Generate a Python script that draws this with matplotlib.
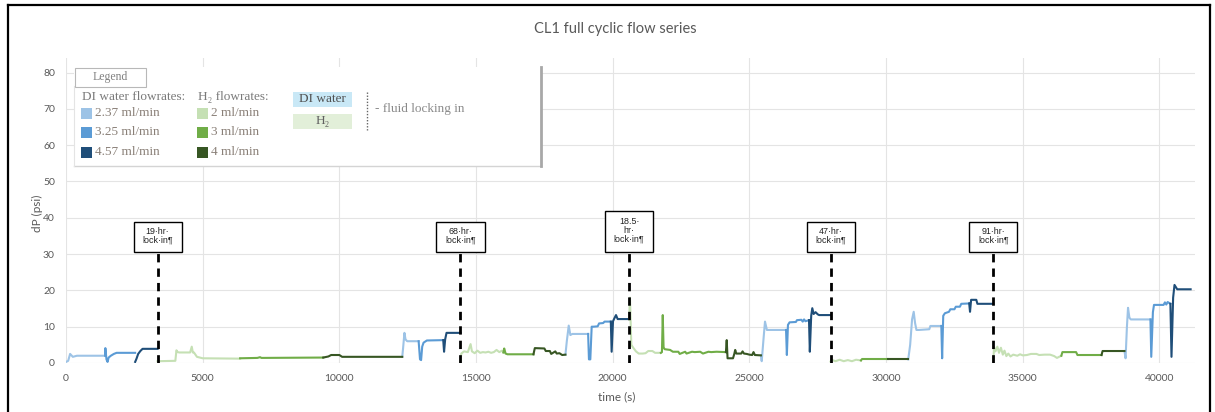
import matplotlib
matplotlib.use('Agg')
import matplotlib.pyplot as plt
from matplotlib.patches import Rectangle
from matplotlib.lines import Line2D

plt.rcParams['font.family'] = ['Lato', 'DejaVu Sans']

# each run: (time in s, dP in psi)
di_237 = [
    ([0, 80, 150, 250, 400, 1430], [0.3, 0.6, 2.5, 1.7, 2.0, 2.0]),
    ([12300, 12330, 12380, 12420, 12480, 12900], [1.7, 4.0, 8.3, 6.5, 6.0, 6.0]),
    ([18270, 18320, 18390, 18450, 18520, 19100], [2.3, 6.0, 10.3, 7.7, 8.0, 8.0]),
    ([25420, 25450, 25520, 25570, 25640, 25700, 26340], [2.1, 0.5, 7.0, 11.4, 9.1, 9.1, 9.1]),
    ([30810, 30880, 30950, 31010, 31060, 31110, 31200, 31580, 31620, 32020],
     [1.0, 5.0, 12.0, 14.1, 11.0, 9.1, 9.1, 9.3, 10.2, 10.2]),
    ([38720, 38760, 38810, 38850, 38900, 38950, 39670], [3.3, 1.3, 10.0, 15.2, 12.5, 12.0, 12.0]),
]
di_325 = [
    ([1430, 1440, 1480, 1520, 1560, 1640, 1750, 1850, 2530], [2.0, 4.1, 1.0, 0.3, 1.5, 2.0, 2.5, 2.8, 2.8]),
    ([12900, 12950, 12990, 13030, 13080, 13200, 13800], [6.0, 1.0, 0.8, 4.5, 5.6, 6.2, 6.3]),
    ([19100, 19130, 19180, 19230, 19300, 19450, 19500, 19650, 19700, 19930],
     [8.0, 1.0, 1.0, 10.0, 10.0, 10.1, 10.9, 11.0, 11.4, 11.4]),
    ([26340, 26370, 26410, 26470, 26700, 26740, 26900, 26950, 27000, 27050, 27180],
     [9.1, 2.2, 10.5, 11.2, 11.3, 11.8, 11.9, 11.4, 12.0, 11.5, 11.8]),
    ([32020, 32050, 32090, 32150, 32300, 32350, 32500, 32550, 32700, 32750, 33040],
     [10.2, 1.3, 13.0, 13.7, 14.1, 14.8, 14.8, 15.5, 15.5, 16.3, 16.4]),
    ([39670, 39700, 39760, 39800, 40150, 40200, 40250, 40300, 40400],
     [12.0, 1.7, 14.0, 16.0, 16.0, 16.7, 16.1, 16.8, 16.3]),
]
di_457 = [
    ([2530, 2580, 2640, 2720, 2800, 3350], [0.3, 1.2, 2.5, 3.3, 3.9, 3.9]),
    ([13800, 13830, 13870, 13920, 14430], [6.3, 3.1, 6.5, 8.3, 8.3]),
    ([19930, 19960, 20010, 20060, 20120, 20180, 20600], [11.4, 3.1, 11.5, 12.3, 13.2, 12.1, 12.1]),
    ([27180, 27210, 27260, 27300, 27350, 27420, 27500, 27550, 27970],
     [11.8, 3.1, 13.0, 15.1, 13.5, 14.0, 13.4, 13.2, 13.2]),
    ([33040, 33070, 33110, 33300, 33340, 33920], [16.4, 14.1, 17.4, 17.4, 16.3, 16.3]),
    ([40400, 40440, 40500, 40550, 40650, 41140], [16.3, 1.7, 18.0, 21.5, 20.3, 20.3]),
]

# H2 runs
h2_2 = [
    ([3350, 3380, 4000, 4040, 4080, 4150, 4540, 4600, 4640, 4680, 4790, 5000, 6370],
     [0.5, 0.5, 0.6, 3.5, 3.0, 2.9, 2.9, 4.5, 2.9, 2.9, 1.7, 1.3, 1.2]),
    ([14430, 14460, 14560, 14700, 14800, 14850, 14950, 15050, 15150, 15250, 15350,
      15450, 15550, 15650, 15750, 15850, 15950, 16000],
     [0.3, 2.6, 3.2, 3.0, 5.2, 3.2, 2.7, 3.4, 2.8, 3.0, 2.9, 3.1, 2.8, 3.0, 3.6, 3.0, 3.4, 2.9]),
    ([20600, 20630, 20680, 20750, 20850, 20950, 21100, 21200, 21300, 21450, 21550, 21650, 21760],
     [12.0, 18.0, 5.0, 4.2, 3.2, 2.6, 2.6, 2.7, 3.3, 3.3, 2.8, 2.8, 2.8]),
    ([27970, 28000, 28150, 28300, 28450, 28600, 28750, 28900, 29080],
     [0.4, 0.9, 0.5, 0.9, 0.5, 0.8, 0.5, 0.9, 0.7]),
    ([33920, 33950, 34000, 34070, 34130, 34200, 34270, 34330, 34400, 34470, 34550, 34650,
      34800, 34900, 35000, 35150, 35300, 35500, 35600, 35800, 36000, 36150, 36250, 36410],
     [0.5, 4.4, 3.2, 4.5, 2.8, 4.2, 2.3, 3.4, 1.9, 2.6, 1.8, 2.3,
      2.0, 2.4, 2.1, 2.2, 2.5, 2.5, 2.2, 2.3, 2.3, 1.9, 1.4, 2.0]),
]
h2_3 = [
    ([6370, 7000, 7100, 7150, 9410], [1.3, 1.4, 1.6, 1.4, 1.5]),
    ([16000, 16030, 16080, 16150, 17100], [2.9, 4.0, 2.6, 2.4, 2.4]),
    ([21760, 21800, 21830, 21860, 21900, 22100, 22200, 22400, 22450, 22650, 22700, 22900,
      23000, 23200, 23300, 23500, 23600, 23800, 24140],
     [2.8, 3.0, 13.2, 4.3, 3.8, 3.6, 3.1, 3.1, 2.5, 3.1, 2.6, 3.1, 3.0, 3.1, 2.6, 3.1, 3.0, 3.1, 3.0]),
    ([29080, 29120, 30070], [0.7, 1.1, 1.1]),
    ([36410, 36450, 36950, 37000, 37880], [2.0, 3.0, 3.0, 2.2, 2.2]),
]
h2_4 = [
    ([9410, 9600, 9700, 10000, 10100, 12300], [1.5, 1.8, 2.2, 2.2, 1.7, 1.7]),
    ([17100, 17150, 17500, 17550, 17700, 17750, 17900, 17950, 18050, 18150, 18270],
     [2.4, 4.1, 4.0, 3.3, 3.3, 2.5, 3.2, 2.6, 2.7, 2.2, 2.3]),
    ([24140, 24170, 24200, 24260, 24400, 24450, 24480, 24520, 24700, 24750, 24800, 24900,
      25000, 25100, 25150, 25200, 25420],
     [3.0, 6.3, 1.3, 1.3, 1.3, 2.6, 3.6, 2.6, 2.6, 3.2, 2.6, 2.5, 2.3, 2.2, 3.0, 2.2, 2.1]),
    ([30070, 30810], [1.0, 1.0]),
    ([37880, 37920, 38720], [2.2, 3.3, 3.3]),
]

lock_t = [3350, 14430, 20600, 27970, 33920]
lock_labels = ['19·hr·\nlock·in¶', '68·hr·\nlock·in¶', '18.5·\nhr·\nlock·in¶',
               '47·hr·\nlock·in¶', '91·hr·\nlock·in¶']

di_names = ['2.37 ml/min', '3.25 ml/min', '4.57 ml/min']
h2_names = ['2 ml/min', '3 ml/min', '4 ml/min']
blues = ['#9dc3e6', '#5b9bd5', '#1f4e79']
greens = ['#c5e0b4', '#70ad47', '#375623']

W, H = 1215, 412
fig = plt.figure(figsize=(W / 100, H / 100), dpi=100)
ax = fig.add_axes([66 / W, 1 - 363 / H, 1129 / W, 305 / H])


def fx(x):
    return x / W


def fy(y):
    return 1 - y / H


for runs, c in zip([di_237, di_325, di_457, h2_2, h2_3, h2_4], blues + greens):
    for t, dp in runs:
        ax.plot(t, dp, color=c, lw=1.5, solid_joinstyle='round')

# lock-in markers
box_bottom = 30.6
box_w = 1760
for t, lab in zip(lock_t, lock_labels):
    nl = lab.count('\n') + 1
    h = 8.3 if nl == 2 else 11.3
    ax.plot([t, t], [0, box_bottom], color='black', lw=2, ls=(0, (3, 2.2)), zorder=4)
    ax.add_patch(Rectangle((t - box_w / 2, box_bottom), box_w, h, fc='white', ec='black',
                           lw=1, zorder=5))
    ax.text(t, box_bottom + h / 2 + 0.3, lab, ha='center', va='center', fontsize=6.4,
            family=['Liberation Sans', 'DejaVu Sans'], color='#222222', linespacing=1.0,
            zorder=6)

ax.set_xlim(0, 41300)
ax.set_ylim(0, 84)
ax.set_xticks(range(0, 40001, 5000))
ax.set_yticks(range(0, 81, 10))
ax.tick_params(length=0, colors='#595959', labelsize=7.5, pad=8)
for s in ax.spines.values():
    s.set_visible(False)
ax.grid(color='#e4e4e4', lw=0.8)
ax.set_axisbelow(True)

fig.text(fx(615), fy(29), 'CL1 full cyclic flow series', ha='center', va='center',
         fontsize=10.5, color='#595959')
fig.text(fx(37), fy(213), 'dP (psi)', rotation=90, ha='center', va='center',
         fontsize=8.5, color='#595959')
fig.text(fx(617), fy(397), 'time (s)', ha='center', va='center', fontsize=8.5, color='#595959')

# legend panel
serif = ['Liberation Serif', 'DejaVu Serif']
fs = 9.5
fig.add_artist(Rectangle((fx(74), fy(166)), fx(541) - fx(74), fy(67) - fy(166),
                         transform=fig.transFigure, fc='white', ec='none', zorder=3))
fig.add_artist(Line2D([fx(74), fx(541)], [fy(166), fy(166)], transform=fig.transFigure,
                      color='#d4d4d4', lw=1, zorder=4))
fig.add_artist(Line2D([fx(74), fx(74)], [fy(86), fy(166)], transform=fig.transFigure,
                      color='#e4e4e4', lw=0.8, zorder=4))
fig.add_artist(Line2D([fx(541), fx(541)], [fy(67), fy(166)], transform=fig.transFigure,
                      color='#a8a8a8', lw=2, zorder=4))
fig.add_artist(Rectangle((fx(75), fy(87)), fx(146) - fx(75), fy(68) - fy(87),
                         transform=fig.transFigure, fc='white', ec='#b8b8b8', lw=0.8, zorder=4))
fig.text(fx(110), fy(77), 'Legend', ha='center', va='center', fontsize=8.5,
         family=serif, color='#808080', zorder=5)

fig.text(fx(82), fy(97), 'DI water flowrates:', ha='left', va='center', fontsize=fs,
         family=serif, color='#7a7a7a', zorder=5)
fig.text(fx(198), fy(97), 'H₂ flowrates:', ha='left', va='center', fontsize=fs,
         family=serif, color='#7a7a7a', zorder=5)
rows = [113, 132, 152]
for i in range(3):
    fig.add_artist(Rectangle((fx(81), fy(rows[i] + 5.5)), 11 / W, 11 / H, transform=fig.transFigure,
                             fc=blues[i], ec='none', zorder=5))
    fig.text(fx(95), fy(rows[i]), di_names[i], ha='left', va='center', fontsize=fs,
             family=serif, color='#8a8078', zorder=5)
    fig.add_artist(Rectangle((fx(197), fy(rows[i] + 5.5)), 11 / W, 11 / H, transform=fig.transFigure,
                             fc=greens[i], ec='none', zorder=5))
    fig.text(fx(211), fy(rows[i]), h2_names[i], ha='left', va='center', fontsize=fs,
             family=serif, color='#8a8078', zorder=5)

fig.add_artist(Rectangle((fx(293), fy(107)), fx(352) - fx(293), fy(92) - fy(107),
                         transform=fig.transFigure, fc='#c9e8f6', ec='none', zorder=5))
fig.text(fx(322.5), fy(99.5), 'DI water', ha='center', va='center', fontsize=fs,
         family=serif, color='#505050', zorder=6)
fig.add_artist(Rectangle((fx(293), fy(129)), fx(352) - fx(293), fy(114) - fy(129),
                         transform=fig.transFigure, fc='#e2efd9', ec='none', zorder=5))
fig.text(fx(322.5), fy(121.5), 'H₂', ha='center', va='center', fontsize=fs,
         family=serif, color='#606060', zorder=6)
fig.add_artist(Line2D([fx(367), fx(367)], [fy(92), fy(130)], transform=fig.transFigure,
                      color='#666666', lw=1, ls=(0, (1, 1.2)), zorder=5))
fig.text(fx(375), fy(109), '- fluid locking in', ha='left', va='center', fontsize=fs,
         family=serif, color='#8a8a8a', zorder=5)

# outer frame of the screenshot
for xs, ys in [([8, 8], [5, 412]), ([8, 1210], [5, 5]), ([1210, 1210], [5, 412])]:
    fig.add_artist(Line2D([fx(v) for v in xs], [fy(v) for v in ys], transform=fig.transFigure,
                          color='black', lw=1.6, zorder=10))

fig.savefig('out.png', dpi=100)
